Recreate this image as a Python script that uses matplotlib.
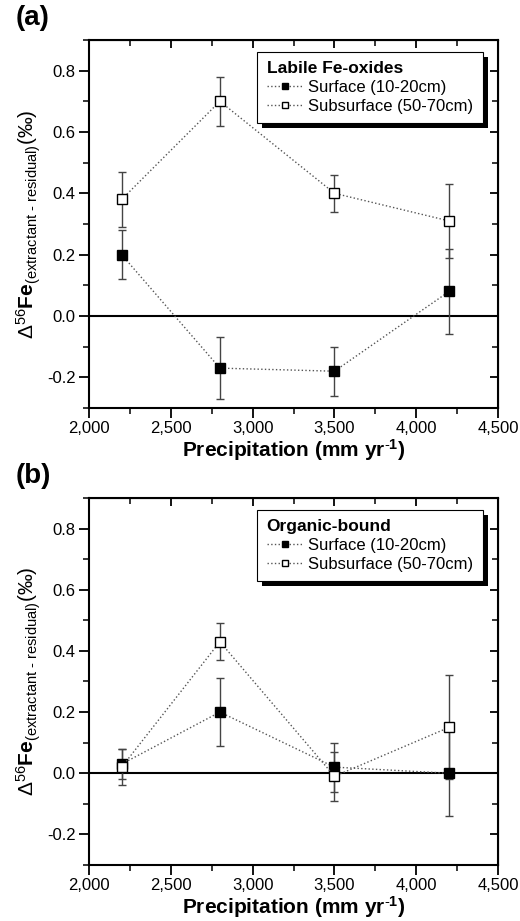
import matplotlib
matplotlib.use('Agg')
import matplotlib.pyplot as plt
import matplotlib.ticker as mticker
from matplotlib.patches import Rectangle

plt.rcParams['font.family'] = ['Liberation Sans', 'DejaVu Sans']
plt.rcParams['mathtext.fontset'] = 'custom'
plt.rcParams['mathtext.rm'] = 'Liberation Sans'
plt.rcParams['mathtext.bf'] = 'Liberation Sans:bold'
plt.rcParams['mathtext.it'] = 'Liberation Sans'
plt.rcParams['mathtext.default'] = 'regular'

precip = [2200, 2800, 3500, 4200]

# (a) labile Fe-oxides
a_surf = [0.20, -0.17, -0.18, 0.08]
a_surf_err = [0.08, 0.10, 0.08, 0.14]
a_sub = [0.38, 0.70, 0.40, 0.31]
a_sub_err = [0.09, 0.08, 0.06, 0.12]

# (b) organic-bound
b_surf = [0.03, 0.20, 0.02, 0.00]
b_surf_err = [0.05, 0.11, 0.08, 0.14]
b_sub = [0.02, 0.43, -0.01, 0.15]
b_sub_err = [0.06, 0.06, 0.08, 0.17]

panels = [
    ('(a)', 'Labile Fe-oxides', a_surf, a_surf_err, a_sub, a_sub_err),
    ('(b)', 'Organic-bound', b_surf, b_surf_err, b_sub, b_sub_err),
]

fig = plt.figure(figsize=(5.2, 9.21), dpi=100)
positions = [[0.171, 0.557, 0.787, 0.3996], [0.171, 0.0608, 0.787, 0.3985]]

legends = []
for (tag, title, surf, surf_err, sub, sub_err), pos in zip(panels, positions):
    ax = fig.add_axes(pos)
    ax.set_xlim(2000, 4500)
    ax.set_ylim(-0.3, 0.9)
    ax.axhline(0, color='k', lw=1.5, zorder=1)

    ax.errorbar(precip, surf, yerr=surf_err, fmt='none', ecolor='#444444',
                elinewidth=1.0, capsize=2.6, capthick=1.0, zorder=2)
    ax.errorbar(precip, sub, yerr=sub_err, fmt='none', ecolor='#444444',
                elinewidth=1.0, capsize=2.6, capthick=1.0, zorder=2)
    ax.plot(precip, surf, ls=':', color='#555555', lw=1.0, marker='s', ms=7,
            mfc='k', mec='k', mew=1.0, label='Surface (10-20cm)', zorder=3)
    ax.plot(precip, sub, ls=':', color='#555555', lw=1.0, marker='s', ms=7,
            mfc='white', mec='k', mew=1.0, label='Subsurface (50-70cm)', zorder=3)

    ax.xaxis.set_major_locator(mticker.MultipleLocator(500))
    ax.xaxis.set_minor_locator(mticker.MultipleLocator(250))
    ax.yaxis.set_major_locator(mticker.MultipleLocator(0.2))
    ax.yaxis.set_minor_locator(mticker.MultipleLocator(0.1))
    ax.xaxis.set_major_formatter(mticker.FuncFormatter(lambda v, p: f'{int(v):,}'))
    ax.yaxis.set_major_formatter(mticker.FuncFormatter(lambda v, p: f'{v:.1f}'))
    for s in ax.spines.values():
        s.set_linewidth(1.5)
    ax.tick_params(which='major', direction='out', length=7, width=1.3,
                   labelsize=12, pad=2.5)
    ax.tick_params(which='minor', direction='out', length=4.5, width=1.1)

    top = ax.secondary_xaxis('top')
    top.xaxis.set_major_locator(mticker.MultipleLocator(500))
    top.xaxis.set_minor_locator(mticker.MultipleLocator(250))
    top.tick_params(which='major', direction='in', length=6, width=1.3, labeltop=False)
    top.tick_params(which='minor', direction='in', length=4, width=1.1)
    right = ax.secondary_yaxis('right')
    right.yaxis.set_major_locator(mticker.MultipleLocator(0.2))
    right.yaxis.set_minor_locator(mticker.MultipleLocator(0.1))
    right.tick_params(which='major', direction='in', length=6, width=1.3, labelright=False)
    right.tick_params(which='minor', direction='in', length=4, width=1.1)

    ax.set_xlabel(r'Precipitation (mm yr$^{\text{-}1}$)', fontsize=15,
                  fontweight='bold', labelpad=1)
    ax.set_ylabel(r'$\Delta^{56}\mathbf{Fe}_{(extractant\ \text{-}\ residual)}(‰)$',
                  fontsize=15, labelpad=3)

    leg = ax.legend(title=title, loc='upper right', bbox_to_anchor=(0.962, 0.968),
                    fontsize=12, title_fontproperties={'weight': 'bold', 'size': 12.5},
                    frameon=True, fancybox=False, edgecolor='k', framealpha=1,
                    markerscale=0.55, handlelength=2.2, handletextpad=0.3,
                    borderpad=0.55, labelspacing=0.25, borderaxespad=0)
    leg._legend_box.align = 'left'
    leg.get_frame().set_linewidth(0.8)
    leg.set_zorder(6)
    legends.append((ax, leg))

    fig.text(pos[0] - 0.14, pos[1] + pos[3] + 0.01, tag, fontsize=20,
             fontweight='bold', ha='left', va='bottom')

fig.canvas.draw()
for ax, leg in legends:
    bb = leg.get_window_extent()
    sh = Rectangle((bb.x0 + 5, bb.y0 - 5), bb.width, bb.height, transform=None,
                   facecolor='k', edgecolor='none', zorder=5.5, clip_on=False)
    ax.add_artist(sh)

fig.savefig('out.png', dpi=100)
